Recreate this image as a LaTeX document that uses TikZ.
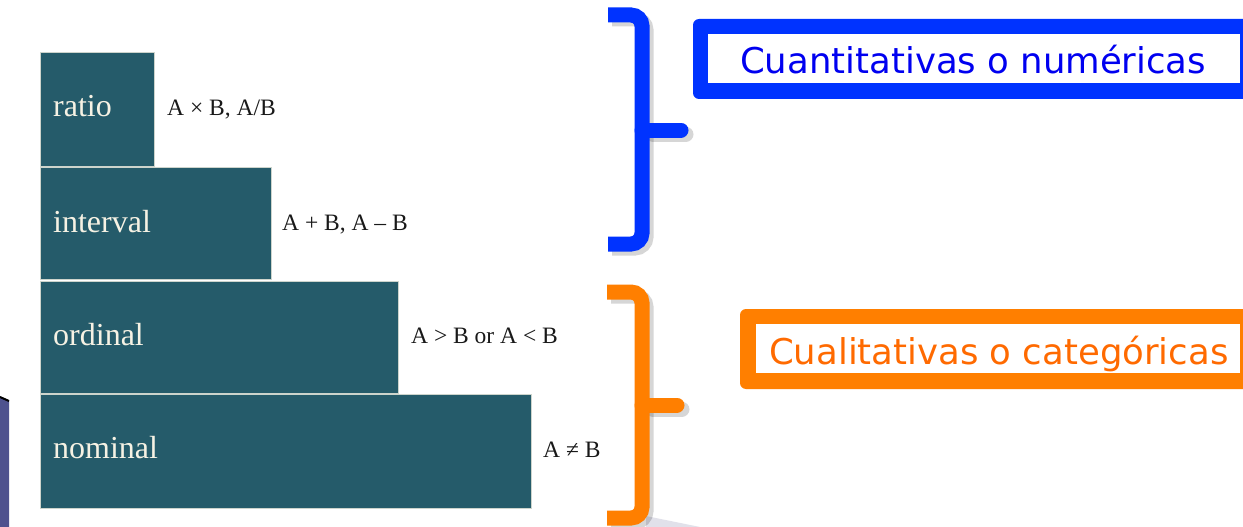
\documentclass[tikz,border=0pt]{standalone}
\usepackage{fontspec}
\setmainfont{Liberation Serif}
\newfontfamily\boxsans{DejaVu Sans}
\definecolor{teal}{RGB}{37,91,106}
\definecolor{cream}{RGB}{246,242,228}
\definecolor{sep}{RGB}{205,212,204}
\definecolor{bblue}{RGB}{0,51,255}
\definecolor{tblue}{RGB}{0,0,240}
\definecolor{borange}{RGB}{255,127,0}
\definecolor{torange}{RGB}{255,106,0}
\definecolor{ink}{RGB}{25,25,25}
\definecolor{slate}{RGB}{78,82,142}
\definecolor{wedge}{RGB}{225,225,234}
\tikzset{
  tealbox/.style={fill=teal, draw=sep, line width=1pt, anchor=north west, inner sep=0pt},
  inlabel/.style={anchor=base west, inner sep=0pt, text=cream, font=\fontsize{32}{36}\selectfont},
  oplabel/.style={anchor=base west, inner sep=0pt, text=ink, font=\fontsize{23.5}{28}\selectfont},
  bracestroke/.style={line width=15pt, rounded corners=11pt, line cap=butt},
  tipstroke/.style={line width=15pt, line cap=round},
  shadowstroke/.style={black, opacity=0.16},
  catlabel/.style={font=\boxsans\fontsize{35.5}{40}\selectfont, inner sep=0pt, anchor=base west}
}
\begin{document}
\begin{tikzpicture}[x=1pt,y=-1pt]
\useasboundingbox (0,0) rectangle (1243,527);
\clip (0,0) rectangle (1243,527);
\fill[white] (0,0) rectangle (1243,527);
% left slide corner
\fill[slate] (0,397) -- (9,401) -- (9,527) -- (0,527) -- cycle;
\draw[black, line width=2pt] (0,397) -- (9,401);
% bottom wedge
\fill[wedge] (646,516) -- (700,527) -- (646,527) -- cycle;
% boxes
\node[tealbox, minimum width=114pt, minimum height=114pt] (ratio) at (40,52) {};
\node[tealbox, minimum width=231pt, minimum height=112pt] (interval) at (40,167) {};
\node[tealbox, minimum width=358pt, minimum height=112pt] (ordinal) at (40,281) {};
\node[tealbox, minimum width=491pt, minimum height=114pt] (nominal) at (40,394) {};
\node[inlabel] (lratio) at (53,117) {ratio};
\node[inlabel] (linterval) at (53,232) {interval};
\node[inlabel] (lordinal) at (53,345) {ordinal};
\node[inlabel] (lnominal) at (53,458) {nominal};
\node[oplabel] (oratio) at (167,115) {A × B, A/B};
\node[oplabel] (ointerval) at (282,230) {A + B, A – B};
\node[oplabel] (oordinal) at (411,343) {A > B or A < B};
\node[oplabel] (onominal) at (543,457) {A ≠ B};
% blue brace
\begin{scope}[shift={(4,4)}]
\draw[bracestroke, shadowstroke] (608,15) -- (642,15) -- (642,244) -- (608,244);
\draw[tipstroke, shadowstroke] (649,130) -- (682,130);
\end{scope}
\draw[bracestroke, bblue] (608,15) -- (642,15) -- (642,244) -- (608,244);
\draw[tipstroke, bblue] (642,130) -- (681,130);
% orange brace
\begin{scope}[shift={(4,4)}]
\draw[bracestroke, shadowstroke] (607,292) -- (642,292) -- (642,518) -- (607,518);
\draw[tipstroke, shadowstroke] (649,405) -- (678,405);
\end{scope}
\draw[bracestroke, borange] (607,292) -- (642,292) -- (642,518) -- (607,518);
\draw[tipstroke, borange] (642,405) -- (677,405);
% category boxes
\fill[bblue, rounded corners=6pt] (693,19) rectangle (1270,99);
\fill[white] (708,34) rectangle (1240,83);
\node[catlabel, text=tblue] (quant) at (740,74) {Cuantitativas o numéricas};
\fill[borange, rounded corners=6pt] (740,309) rectangle (1270,389);
\fill[white] (756,324) rectangle (1240,373);
\node[catlabel, text=torange] (qual) at (769,364) {Cualitativas o categóricas};
\end{tikzpicture}
\end{document}
